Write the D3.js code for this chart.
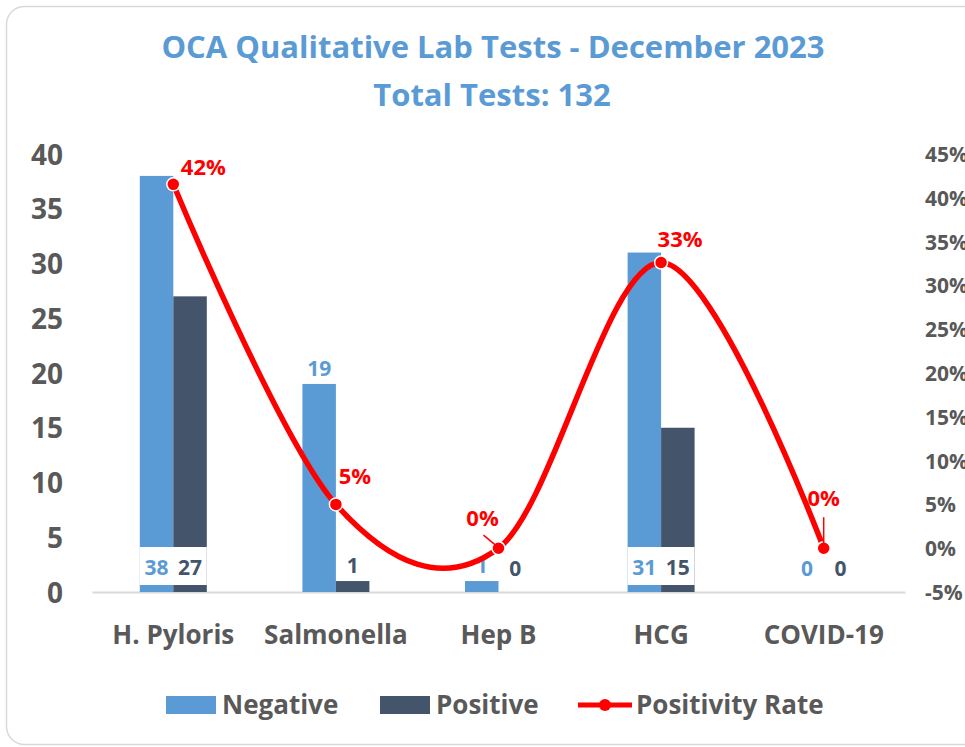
<!DOCTYPE html>
<html>
<head>
<meta charset="utf-8">
<script src="https://cdn.jsdelivr.net/npm/d3@7"></script>
<style>
  body { margin: 0; background: #fff; }
  text { font-family: "Open Sans", sans-serif; font-weight: bold; }
</style>
</head>
<body>
<div id="chart"></div>
<script>
// donnees du graphique
var categories = ["H. Pyloris", "Salmonella", "Hep B", "HCG", "COVID-19"];
var negative = [38, 19, 1, 31, 0];
var positive = [27, 1, 0, 15, 0];
var positivityRate = [0.4154, 0.05, 0, 0.3261, 0];
var rateLabels = ["42%", "5%", "0%", "33%", "0%"];
var leftTicks = [0, 5, 10, 15, 20, 25, 30, 35, 40];
var rightTicks = [-0.05, 0, 0.05, 0.10, 0.15, 0.20, 0.25, 0.30, 0.35, 0.40, 0.45];

var W = 965, H = 747;
var cNeg = "#5b9bd5", cPos = "#44546a", cRed = "#ff0000", cText = "#595959";

var svg = d3.select("#chart").append("svg").attr("width", W).attr("height", H);

// cadre arrondi
svg.append("rect").attr("x", 6.5).attr("y", 6.5).attr("width", 990).attr("height", 738)
   .attr("rx", 18).attr("fill", "#fff").attr("stroke", "#d9d9d9").attr("stroke-width", 1.5);

// titre
svg.append("text").attr("x", 493).attr("y", 58).attr("text-anchor", "middle")
   .attr("fill", cNeg).style("font-size", "31px")
   .text("OCA Qualitative Lab Tests - December 2023");
svg.append("text").attr("x", 492).attr("y", 106).attr("text-anchor", "middle")
   .attr("fill", cNeg).style("font-size", "31px")
   .text("Total Tests: 132");

// echelles
var x = d3.scaleBand().domain(categories).range([92, 905]);
var yL = d3.scaleLinear().domain([0, 40]).range([592, 154]);
var yR = d3.scaleLinear().domain([-0.05, 0.45]).range([592, 154]);
var barW = x.bandwidth() * 0.206;
function cx(c){ return x(c) + x.bandwidth() / 2; }

// axes
var axL = svg.append("g").attr("transform", "translate(63,0)")
   .call(d3.axisLeft(yL).tickValues(leftTicks).tickSize(0).tickPadding(0));
axL.select(".domain").remove();
axL.selectAll("text").attr("fill", cText).style("font-size", "28px").attr("dy", "0.36em");

var axR = svg.append("g").attr("transform", "translate(925,0)")
   .call(d3.axisRight(yR).tickValues(rightTicks).tickSize(0).tickPadding(0)
   .tickFormat(function(v){ return Math.round(v * 100) + "%"; }));
axR.select(".domain").remove();
axR.selectAll("text").attr("fill", cText).style("font-size", "21px").attr("dy", "0.36em");

var axB = svg.append("g").attr("transform", "translate(0,592)")
   .call(d3.axisBottom(x).tickSize(0).tickPadding(0));
axB.select(".domain").attr("stroke", "#d9d9d9").attr("stroke-width", 2);
axB.selectAll("text").attr("fill", cText).style("font-size", "26px").attr("y", 52).attr("dy", 0);

// barres
var rows = categories.map(function(c, i){
    return { cat: c, neg: negative[i], pos: positive[i], rate: positivityRate[i], lab: rateLabels[i] };
});
var g = svg.append("g");
g.selectAll("rect.neg").data(rows).enter().append("rect").attr("class", "neg")
   .attr("x", function(d){ return cx(d.cat) - barW; })
   .attr("y", function(d){ return yL(d.neg); })
   .attr("width", barW)
   .attr("height", function(d){ return yL(0) - yL(d.neg); })
   .attr("fill", cNeg);
g.selectAll("rect.pos").data(rows).enter().append("rect").attr("class", "pos")
   .attr("x", function(d){ return cx(d.cat); })
   .attr("y", function(d){ return yL(d.pos); })
   .attr("width", barW)
   .attr("height", function(d){ return yL(0) - yL(d.pos); })
   .attr("fill", cPos);

// etiquettes des barres : en bas avec fond blanc si les deux barres sont hautes
rows.forEach(function(d){
    var inBase = d.neg >= 10 && d.pos >= 10;
    if (inBase) {
        g.append("rect").attr("x", cx(d.cat) - barW).attr("y", 547)
         .attr("width", barW * 2).attr("height", 38).attr("fill", "#fff");
    }
    [[d.neg, -barW / 2, cNeg], [d.pos, barW / 2, cPos]].forEach(function(b){
        var yy = inBase ? 575 : Math.min(yL(b[0]) - 8, 576);
        g.append("text").attr("x", cx(d.cat) + b[1]).attr("y", yy)
         .attr("text-anchor", "middle").attr("fill", b[2]).style("font-size", "21px")
         .text(b[0]);
    });
});

// courbe du taux de positivite
var line = d3.line()
   .x(function(d){ return cx(d.cat); })
   .y(function(d){ return yR(d.rate); })
   .curve(d3.curveCatmullRom.alpha(0));
svg.append("path").datum(rows).attr("d", line)
   .attr("fill", "none").attr("stroke", cRed).attr("stroke-width", 5.5);
svg.selectAll("circle.pt").data(rows).enter().append("circle").attr("class", "pt")
   .attr("cx", function(d){ return cx(d.cat); })
   .attr("cy", function(d){ return yR(d.rate); })
   .attr("r", 6.5).attr("fill", cRed).attr("stroke", "#fff").attr("stroke-width", 1.5);

// decalage des etiquettes de pourcentage (deplacees a la main comme dans Excel)
var nudge = [[30, -9], [19, -20], [-16, -22], [19, -16], [0, -42]];
rows.forEach(function(d, i){
    var px = cx(d.cat), py = yR(d.rate);
    svg.append("text").attr("x", px + nudge[i][0]).attr("y", py + nudge[i][1])
       .attr("text-anchor", "middle").attr("fill", cRed).style("font-size", "22px")
       .text(d.lab);
});
// traits de rappel
svg.append("line").attr("x1", cx("Hep B") - 15).attr("y1", yR(0) - 13)
   .attr("x2", cx("Hep B") - 3).attr("y2", yR(0) - 3)
   .attr("stroke", cRed).attr("stroke-width", 1.5);
svg.append("line").attr("x1", cx("COVID-19")).attr("y1", yR(0) - 31)
   .attr("x2", cx("COVID-19")).attr("y2", yR(0) - 4)
   .attr("stroke", cRed).attr("stroke-width", 1.5);

// legende
var lg = svg.append("g");
lg.append("rect").attr("x", 166).attr("y", 696).attr("width", 50).attr("height", 18).attr("fill", cNeg);
lg.append("text").attr("x", 222).attr("y", 714).attr("fill", cText).style("font-size", "26px").text("Negative");
lg.append("rect").attr("x", 380).attr("y", 696).attr("width", 50).attr("height", 18).attr("fill", cPos);
lg.append("text").attr("x", 436).attr("y", 714).attr("fill", cText).style("font-size", "26px").text("Positive");
lg.append("line").attr("x1", 578).attr("x2", 632).attr("y1", 705).attr("y2", 705)
  .attr("stroke", cRed).attr("stroke-width", 5);
lg.append("circle").attr("cx", 605).attr("cy", 705).attr("r", 6).attr("fill", cRed);
lg.append("text").attr("x", 636).attr("y", 714).attr("fill", cText).style("font-size", "26px").text("Positivity Rate");
</script>
</body>
</html>
